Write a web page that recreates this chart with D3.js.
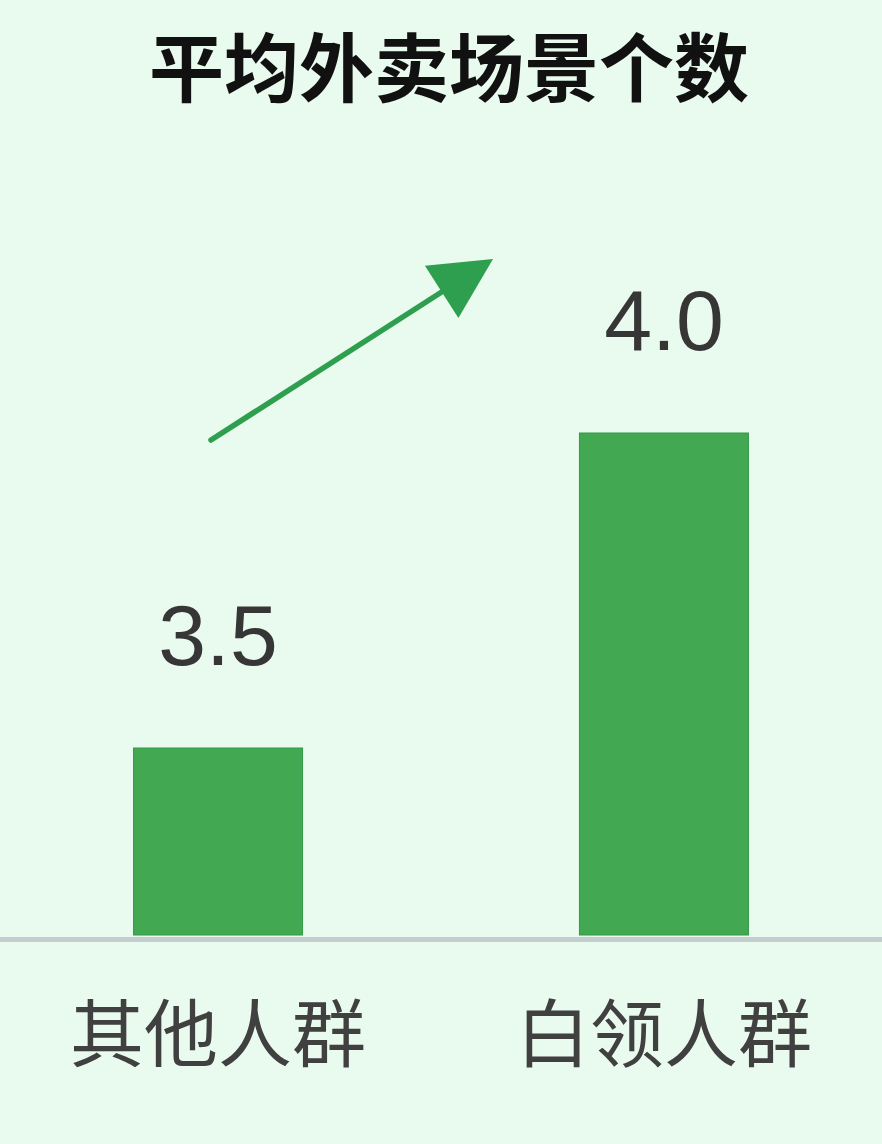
<!DOCTYPE html>
<html>
<head>
<meta charset="utf-8">
<script src="https://cdn.jsdelivr.net/npm/d3@7"></script>
<style>
  html, body { margin: 0; padding: 0; background: #e9faee; }
  svg { display: block; }
</style>
</head>
<body>
<svg id="chart" width="882" height="1144"></svg>
<script>
// ---- data ----
const title = "平均外卖场景个数";
const categories = ["其他人群", "白领人群"];
const values = [3.5, 4.0];
const valueLabels = ["3.5", "4.0"];

// ---- layout ----
const W = 882, H = 1144;
const svg = d3.select("#chart");

svg.append("rect").attr("width", W).attr("height", H).attr("fill", "#e9faee");

const x = d3.scaleBand()
  .domain(categories)
  .range([0, W])
  .paddingInner(0.621)
  .paddingOuter(0.2995);

const y = d3.scaleLinear()
  .domain([3.2, 4.0])
  .range([937, 433]);

// title
svg.append("text")
  .attr("x", 449)
  .attr("y", 96)
  .attr("text-anchor", "middle")
  .attr("font-family", "'Noto Sans CJK SC', sans-serif")
  .attr("font-weight", 700)
  .attr("font-size", 75)
  .attr("fill", "#111111")
  .text(title);

// bars
svg.selectAll("rect.bar")
  .data(values)
  .join("rect")
  .attr("class", "bar")
  .attr("x", (d, i) => x(categories[i]))
  .attr("width", x.bandwidth())
  .attr("y", d => y(d))
  .attr("height", d => y(3.2) - y(d) - 2)
  .attr("fill", "#42a852")
  .attr("stroke", "#339a48")
  .attr("stroke-width", 1);

// baseline
svg.append("rect")
  .attr("x", 0)
  .attr("width", W)
  .attr("y", y(3.2))
  .attr("height", 5)
  .attr("fill", "#c6cdd0");

// value labels
svg.selectAll("text.val")
  .data(values)
  .join("text")
  .attr("class", "val")
  .attr("x", (d, i) => x(categories[i]) + x.bandwidth() / 2)
  .attr("y", d => y(d) - 83)
  .attr("text-anchor", "middle")
  .attr("font-family", "'Liberation Sans', Arial, sans-serif")
  .attr("font-size", 86)
  .attr("fill", "#363636")
  .text((d, i) => valueLabels[i]);

// category labels
svg.selectAll("text.cat")
  .data(categories)
  .join("text")
  .attr("class", "cat")
  .attr("x", d => x(d) + x.bandwidth() / 2)
  .attr("y", 1061)
  .attr("text-anchor", "middle")
  .attr("font-family", "'Noto Sans CJK SC', sans-serif")
  .attr("font-weight", 400)
  .attr("font-size", 74)
  .attr("fill", "#404040")
  .text(d => d);

// trend arrow
const arrowColor = "#2e9f4f";
const start = [211, 440], tip = [493, 259];
const ang = Math.atan2(tip[1] - start[1], tip[0] - start[0]);
const headLen = 61, headHalf = 31;
const base = [tip[0] - headLen * Math.cos(ang), tip[1] - headLen * Math.sin(ang)];
svg.append("line")
  .attr("x1", start[0]).attr("y1", start[1])
  .attr("x2", base[0] + 6 * Math.cos(ang)).attr("y2", base[1] + 6 * Math.sin(ang))
  .attr("stroke", arrowColor)
  .attr("stroke-width", 5.5)
  .attr("stroke-linecap", "round");
const px = -Math.sin(ang), py = Math.cos(ang);
svg.append("path")
  .attr("d", d3.line()([
    tip,
    [base[0] + headHalf * px, base[1] + headHalf * py],
    [base[0] - headHalf * px, base[1] - headHalf * py]
  ]) + "Z")
  .attr("fill", arrowColor);
</script>
</body>
</html>
